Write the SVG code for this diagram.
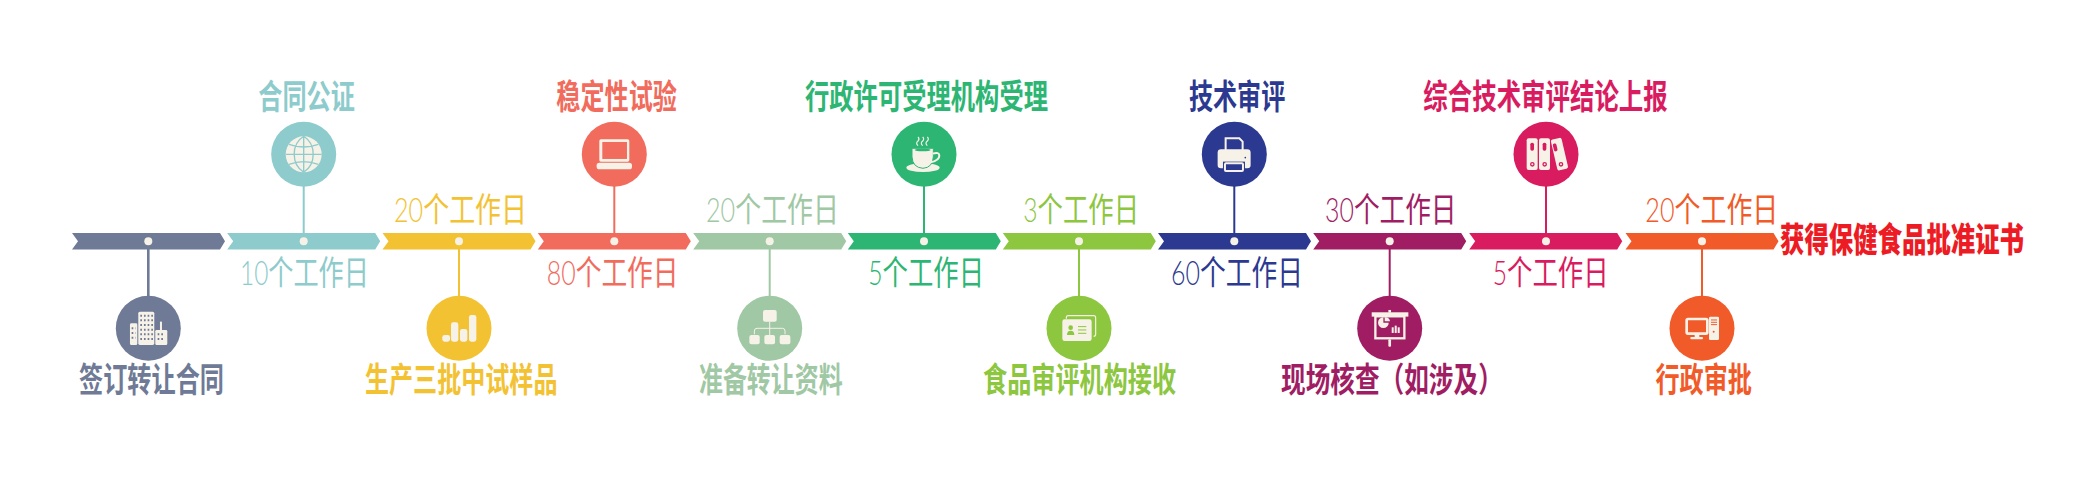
<svg xmlns="http://www.w3.org/2000/svg" width="2083" height="481" viewBox="0 0 2083 481">
<style>
text{font-family:"Noto Sans CJK SC","Noto Sans CJK JP",sans-serif;fill:currentColor;white-space:pre}
.lab{font-size:34px;font-weight:700}
.day{font-size:34px;font-weight:400}
.num{font-family:"Lato","Noto Sans",sans-serif;font-weight:300;font-size:33px}
.bar,.disc{fill:currentColor}
.dot,.i{fill:#f7f2e8}
.k{fill:currentColor}
.ok{fill:none;stroke:currentColor;stroke-width:4}
#connectors line{stroke-width:2;stroke:currentColor}
.c1{color:#6f7a96}.c2{color:#8dcbcc}.c3{color:#f3c233}.c4{color:#f16c5d}.c5{color:#a0c8a4}.c6{color:#2db673}.c7{color:#8dc63f}.c8{color:#2b3990}.c9{color:#a01d64}.c10{color:#d91b5f}.c11{color:#f15a29}
</style>
<defs>
<path id="chev" d="M-76.5-8.3H71.5L76.5 0 71.5 8.3H-76.5L-70.5 0Z"/>
</defs>
<g id="connectors">
<line class="c1" x1="148.3" y1="241" x2="148.3" y2="296" style="stroke-width:2.6"/>
<line class="c2" x1="303.7" y1="186" x2="303.7" y2="241"/>
<line class="c3" x1="459" y1="241" x2="459" y2="296"/>
<line class="c4" x1="614.3" y1="186" x2="614.3" y2="241"/>
<line class="c5" x1="769.7" y1="241" x2="769.7" y2="296"/>
<line class="c6" x1="924" y1="186" x2="924" y2="241"/>
<line class="c7" x1="1079" y1="241" x2="1079" y2="296"/>
<line class="c8" x1="1234.3" y1="186" x2="1234.3" y2="241"/>
<line class="c9" x1="1389.7" y1="241" x2="1389.7" y2="296"/>
<line class="c10" x1="1546" y1="186" x2="1546" y2="241"/>
<line class="c11" x1="1702" y1="241" x2="1702" y2="296"/>
</g>

<g id="step1" class="c1">
<use href="#chev" class="bar" x="148.5" y="241.3"/><circle class="dot" cx="148.3" cy="241.3" r="4"/>
<circle class="disc" cx="148.3" cy="328.3" r="32.5"/>
<g transform="translate(148.3 328.3) scale(.3333)">
<rect class="i" x="-30" y="-50" width="48" height="100" rx="5"/><rect class="i" x="-55" y="-15" width="22" height="65" rx="4"/><rect class="i" x="21" y="5" width="36" height="45" rx="4"/><rect class="i" x="35" y="-20" width="6" height="26"/>
<path class="ok" stroke-dasharray="5 6" style="stroke-width:6" d="M-24-38H14M-24-24H14M-24-10H14M-24 4H14M-24 18H14M-24 32H14M-50 0H-38M-50 14H-38M-50 28H-38M28 18H50M28 32H50"/>
</g>
<text class="lab" transform="translate(79 392) scale(.711 1)">签订转让合同</text>
</g>

<g id="step2" class="c2">
<use href="#chev" class="bar" x="303.7" y="241.3"/><circle class="dot" cx="303.7" cy="241.3" r="4"/>
<circle class="disc" cx="303.7" cy="154.3" r="32.5"/>
<g transform="translate(303.7 154.3) scale(.3333)">
<circle class="i" r="54"/>
<path class="ok" d="M0-54V54M-54 0H54M-44-30Q0-14 44-30M-44 30Q0 14 44 30M0-54C-38-30-38 30 0 54M0-54C38-30 38 30 0 54"/>
</g>
<text class="lab" transform="translate(258.3 109) scale(.711 1)">合同公证</text>
<text class="day" transform="translate(240 285) scale(.74 1)"><tspan class="num">10</tspan>个工作日</text>
</g>

<g id="step3" class="c3">
<use href="#chev" class="bar" x="459" y="241.3"/><circle class="dot" cx="459" cy="241.3" r="4"/>
<circle class="disc" cx="459" cy="328.3" r="32.5"/>
<g transform="translate(459 328.3) scale(.3333)">
<rect class="i" x="-50" y="20" width="23" height="20" rx="7"/><rect class="i" x="-24" y="-18" width="22" height="58" rx="7"/><rect class="i" x="3" y="2" width="22" height="38" rx="7"/><rect class="i" x="30" y="-40" width="22" height="80" rx="7"/>
</g>
<text class="lab" transform="translate(365 392) scale(.708 1)">生产三批中试样品</text>
<text class="day" transform="translate(394 222) scale(.763 1)"><tspan class="num">20</tspan>个工作日</text>
</g>

<g id="step4" class="c4">
<use href="#chev" class="bar" x="614.3" y="241.3"/><circle class="dot" cx="614.3" cy="241.3" r="4"/>
<circle class="disc" cx="614.3" cy="154.3" r="32.5"/>
<g transform="translate(614.3 154.3) scale(.3333)">
<rect class="i" x="-45" y="-45" width="90" height="67" rx="5"/><rect class="k" x="-36" y="-37" width="74" height="51"/><rect class="i" x="-53" y="25" width="106" height="20" rx="8"/>
</g>
<text class="lab" transform="translate(556.3 109) scale(.71 1)">稳定性试验</text>
<text class="day" transform="translate(546.7 285) scale(.757 1)"><tspan class="num">80</tspan>个工作日</text>
</g>

<g id="step5" class="c5">
<use href="#chev" class="bar" x="769.7" y="241.3"/><circle class="dot" cx="769.7" cy="241.3" r="4"/>
<circle class="disc" cx="769.7" cy="328.3" r="32.5"/>
<g transform="translate(769.7 328.3) scale(.3333)">
<rect class="i" x="-20" y="-55" width="41" height="35" rx="6"/><rect class="i" x="-61" y="20" width="31" height="28" rx="6"/><rect class="i" x="-16" y="20" width="32" height="28" rx="6"/><rect class="i" x="30" y="20" width="32" height="28" rx="6"/>
<path fill="none" stroke="#f7f2e8" stroke-width="3" d="M0-20V20M-46 18V8Q-46 0-38 0H38Q46 0 46 8V18"/>
</g>
<text class="lab" transform="translate(699 392) scale(.704 1)">准备转让资料</text>
<text class="day" transform="translate(706 222) scale(.763 1)"><tspan class="num">20</tspan>个工作日</text>
</g>

<g id="step6" class="c6">
<use href="#chev" class="bar" x="924.3" y="241.3"/><circle class="dot" cx="924" cy="241.3" r="4"/>
<circle class="disc" cx="924" cy="154.3" r="32.5"/>
<g transform="translate(924 154.3) scale(.3333)">
<ellipse class="i" cx="-3" cy="40" rx="50" ry="13"/>
<path class="i" d="M-36-18H28V8Q26 40-3 42Q-34 40-36 8Z" stroke="currentColor" stroke-width="3"/>
<ellipse class="k" cx="-4" cy="-13" rx="24" ry="4"/>
<path fill="none" stroke="#f7f2e8" stroke-width="6" d="M26-2Q46-8 46 4Q46 18 20 24"/>
<path fill="none" stroke="#f7f2e8" stroke-width="3.5" d="M-18-26Q-26-34-18-40Q-12-46-18-52M-4-26Q-12-34-4-40Q2-46-4-52M10-26Q2-34 10-40Q16-46 10-52"/>
</g>
<text class="lab" transform="translate(805 109) scale(.715 1)">行政许可受理机构受理</text>
<text class="day" transform="translate(868.3 285) scale(.746 1)"><tspan class="num">5</tspan>个工作日</text>
</g>

<g id="step7" class="c7">
<use href="#chev" class="bar" x="1079.3" y="241.3"/><circle class="dot" cx="1079" cy="241.3" r="4"/>
<circle class="disc" cx="1079" cy="328.3" r="32.5"/>
<g transform="translate(1079 328.3) scale(.3333)">
<path fill="none" stroke="#f7f2e8" stroke-width="3.5" d="M-38-29V-33Q-38-38-32-38H44Q50-38 50-32V18Q50 24 44 24"/>
<rect class="i" x="-50" y="-27" width="88" height="65" rx="7"/>
<circle class="k" cx="-25" cy="-2" r="7"/><path class="k" d="M-36 20Q-36 7-25 7Q-14 7-14 20Z"/>
<path fill="none" stroke="currentColor" stroke-width="3" d="M-3-5H22M-3 5H22M-3 15H22"/>
</g>
<text class="lab" transform="translate(983 392) scale(.71 1)">食品审评机构接收</text>
<text class="day" transform="translate(1023.3 222) scale(.746 1)"><tspan class="num">3</tspan>个工作日</text>
</g>

<g id="step8" class="c8">
<use href="#chev" class="bar" x="1234.5" y="241.3"/><circle class="dot" cx="1234.3" cy="241.3" r="4"/>
<circle class="disc" cx="1234.3" cy="154.3" r="32.5"/>
<g transform="translate(1234.3 154.3) scale(.3333)">
<path fill="none" stroke="#f7f2e8" stroke-width="6" d="M-26-12V-48H15L25-38V-12"/>
<rect class="i" x="-50" y="-15" width="99" height="57" rx="10"/>
<rect class="k" x="-34" y="22" width="66" height="30"/>
<rect fill="none" stroke="#f7f2e8" stroke-width="6" x="-28" y="27" width="54" height="23" rx="3"/>
<circle class="k" cx="33" cy="10" r="2.5"/>
</g>
<text class="lab" transform="translate(1189 109) scale(.708 1)">技术审评</text>
<text class="day" transform="translate(1171 285) scale(.757 1)"><tspan class="num">60</tspan>个工作日</text>
</g>

<g id="step9" class="c9">
<use href="#chev" class="bar" x="1389.7" y="241.3"/><circle class="dot" cx="1389.7" cy="241.3" r="4"/>
<circle class="disc" cx="1389.7" cy="328.3" r="32.5"/>
<g transform="translate(1389.7 328.3) scale(.3333)">
<rect class="i" x="-54" y="-48" width="110" height="13"/><rect class="i" x="-4" y="-55" width="8" height="8"/>
<rect fill="none" stroke="#f7f2e8" stroke-width="7" x="-43" y="-36" width="87" height="66"/>
<rect class="i" x="-4" y="33" width="8" height="22" rx="3"/>
<path class="i" d="M-19-33A16 16 0 1 0-3-17H-19Z"/><path class="i" d="M-15-33A15 15 0 0 1 1-21H-15Z"/>
<rect class="i" x="6" y="-3" width="6" height="17"/><rect class="i" x="15" y="-8" width="6" height="22"/><rect class="i" x="24" y="-3" width="6" height="17"/>
</g>
<text class="lab" transform="translate(1281 392) scale(.725 1)">现场核查（如涉及）</text>
<text class="day" transform="translate(1325 222) scale(.755 1)"><tspan class="num">30</tspan>个工作日</text>
</g>

<g id="step10" class="c10">
<use href="#chev" class="bar" x="1545.7" y="241.3"/><circle class="dot" cx="1546" cy="241.3" r="4"/>
<circle class="disc" cx="1546" cy="154.3" r="32.5"/>
<g transform="translate(1546 154.3) scale(.3333)">
<rect class="i" x="-58" y="-48" width="33" height="95" rx="6"/><rect class="i" x="-21" y="-48" width="33" height="95" rx="6"/>
<rect class="i" x="24" y="-48" width="33" height="95" rx="6" transform="rotate(-13 40 0)"/>
<rect class="k" x="-47" y="-35" width="11" height="24" rx="5"/><rect class="k" x="-10" y="-35" width="11" height="24" rx="5"/><rect class="k" x="27" y="-35" width="11" height="24" rx="5" transform="rotate(-13 40 0)"/>
<circle class="ok" cx="-41" cy="30" r="5"/><circle class="ok" cx="-4" cy="30" r="5"/><circle class="ok" cx="45" cy="30" r="5"/>
</g>
<text class="lab" transform="translate(1423.3 109) scale(.719 1)">综合技术审评结论上报</text>
<text class="day" transform="translate(1492.7 285) scale(.747 1)"><tspan class="num">5</tspan>个工作日</text>
</g>

<g id="step11" class="c11">
<use href="#chev" class="bar" x="1702" y="241.3"/><circle class="dot" cx="1702" cy="241.3" r="4"/>
<circle class="disc" cx="1702" cy="328.3" r="32.5"/>
<g transform="translate(1702 328.3) scale(.3333)">
<rect fill="none" stroke="#f7f2e8" stroke-width="8" x="-46" y="-28" width="62" height="44" rx="4"/>
<rect class="i" x="-22" y="18" width="14" height="12"/><rect class="i" x="-35" y="26" width="38" height="7" rx="3"/>
<rect class="i" x="21" y="-35" width="30" height="70" rx="4"/>
<path fill="none" stroke="currentColor" stroke-width="3" d="M27-25H45M27-18H45M27-11H45"/><circle class="k" cx="35" cy="10" r="3"/>
</g>
<text class="lab" transform="translate(1655.4 392) scale(.71 1)">行政审批</text>
<text class="day" transform="translate(1645.3 222) scale(.763 1)"><tspan class="num">20</tspan>个工作日</text>
</g>

<g id="result">
<text class="lab" transform="translate(1780 252) scale(.718 1)" style="color:#ed1c24;font-weight:900">获得保健食品批准证书</text>
</g>
</svg>
